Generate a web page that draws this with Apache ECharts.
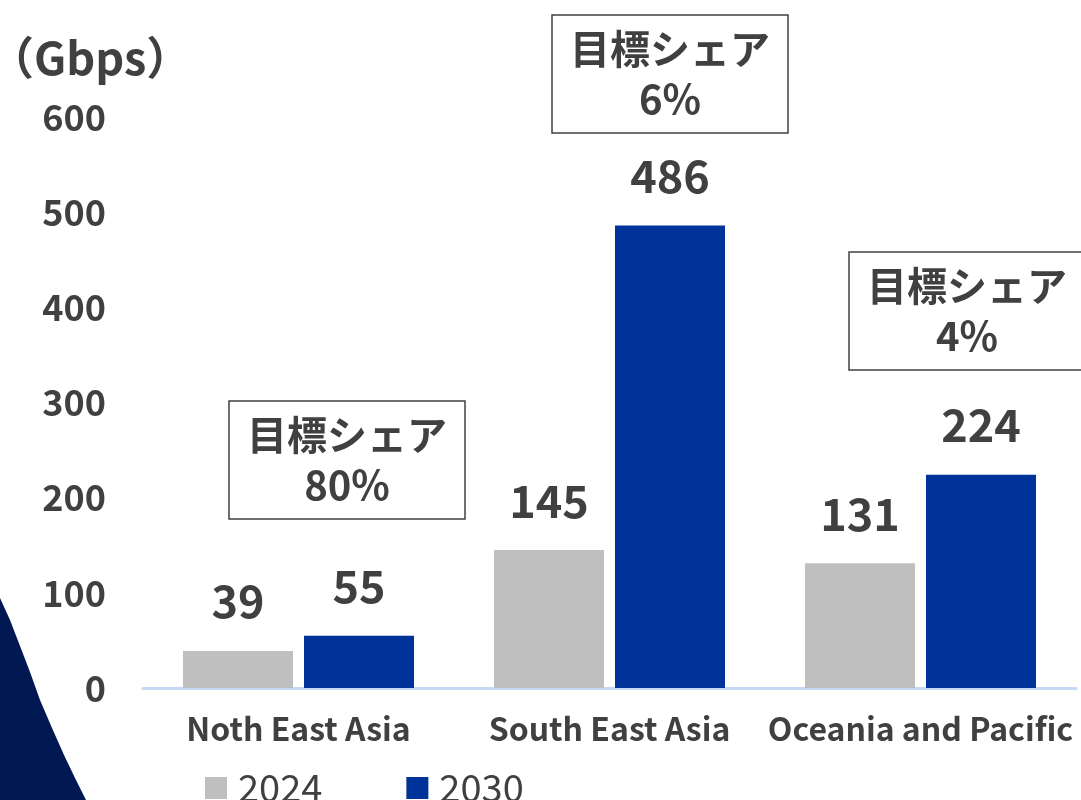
<!DOCTYPE html>
<html>
<head>
<meta charset="utf-8">
<script src="https://cdn.jsdelivr.net/npm/echarts@6/dist/echarts.min.js"></script>
<style>
  html, body { margin: 0; padding: 0; background: #ffffff; }
  #chart { width: 1081px; height: 800px; }
</style>
</head>
<body>
<div id="chart"></div>
<script>
// Regions and bandwidth (Gbps)
const regions = ['Noth East Asia', 'South East Asia', 'Oceania and Pacific'];
const seriesNames = ['2024', '2030'];
const values2024 = [39, 145, 131];
const values2030 = [55, 486, 224];
const targetShares = ['80%', '6%', '4%'];
const yTicks = [0, 100, 200, 300, 400, 500, 600];

const FONT = '"Noto Sans CJK JP", "Noto Sans", sans-serif';
const TEXT = '#404040';

// Callout box with target share text
function shareBox(x, y, share) {
  return {
    type: 'group',
    x: x, y: y,
    children: [
      {
        type: 'rect',
        shape: { x: 0, y: 0, width: 236, height: 118 },
        style: { fill: '#ffffff', stroke: '#404040', lineWidth: 1.5 }
      },
      {
        type: 'text',
        x: 118, y: 59,
        style: {
          text: '目標シェア\n' + share,
          fill: TEXT,
          font: 'bold 40px ' + FONT,
          lineHeight: 50,
          align: 'center',
          verticalAlign: 'middle'
        }
      }
    ]
  };
}

const chart = echarts.init(document.getElementById('chart'));
chart.setOption({
  backgroundColor: '#ffffff',
  animation: false,
  textStyle: { fontFamily: FONT },
  title: {
    text: '（Gbps）',
    left: -16, top: 30,
    textStyle: { color: TEXT, fontSize: 45, fontWeight: 'bold', fontFamily: FONT }
  },
  grid: { left: 143, right: 5, top: 117, bottom: 112 },
  legend: {
    data: seriesNames,
    left: 200, top: 764,
    icon: 'rect',
    itemWidth: 22, itemHeight: 22,
    itemGap: 84,
    textStyle: { color: TEXT, fontSize: 38, fontFamily: FONT, padding: [0, 0, 0, 6] }
  },
  xAxis: {
    type: 'category',
    data: regions,
    axisLine: { lineStyle: { color: '#C5D9F5', width: 3 } },
    axisTick: { show: false },
    axisLabel: {
      color: TEXT, fontSize: 32, fontWeight: 'bold', fontFamily: FONT,
      margin: 25, interval: 0
    }
  },
  yAxis: {
    type: 'value',
    min: yTicks[0], max: yTicks[yTicks.length - 1], interval: 100,
    axisLine: { show: false },
    axisTick: { show: false },
    splitLine: { show: false },
    axisLabel: {
      color: TEXT, fontSize: 36, fontWeight: 'bold', fontFamily: FONT, margin: 37
    }
  },
  series: [
    {
      name: seriesNames[0],
      type: 'bar',
      data: values2024,
      barWidth: 110,
      barGap: '10%',
      itemStyle: { color: '#BFBFBF' },
      label: {
        show: true, position: 'top', distance: 27,
        color: TEXT, fontSize: 45, fontWeight: 'bold', fontFamily: FONT
      }
    },
    {
      name: seriesNames[1],
      type: 'bar',
      data: values2030,
      barWidth: 110,
      barGap: '10%',
      itemStyle: { color: '#003399' },
      label: {
        show: true, position: 'top', distance: 27,
        color: TEXT, fontSize: 45, fontWeight: 'bold', fontFamily: FONT
      }
    }
  ],
  graphic: [
    // dark navy wedge at lower left
    {
      type: 'polygon',
      z: -10,
      shape: { points: [[0, 598], [10, 620], [20, 646], [30, 672], [40, 700], [52, 728], [64, 755], [75, 778], [86, 800], [0, 800]] },
      style: { fill: '#021852' }
    },
    shareBox(229, 401, targetShares[0]),
    shareBox(552, 15, targetShares[1]),
    shareBox(849, 252, targetShares[2])
  ]
});
</script>
</body>
</html>
